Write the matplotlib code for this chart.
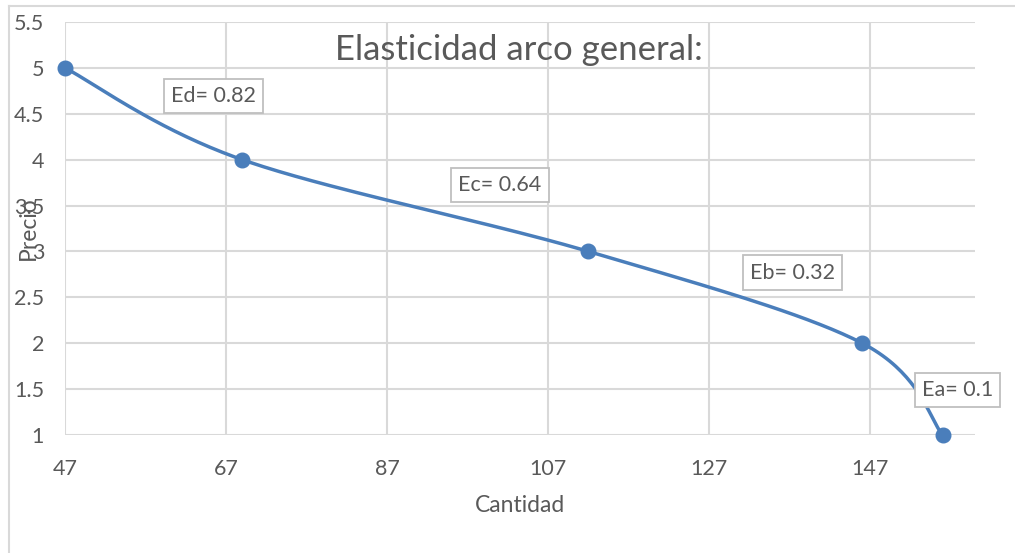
import numpy as np
import matplotlib.pyplot as plt
from matplotlib.lines import Line2D

# data
cantidad = [47, 69, 112, 146, 156]
precio = [5, 4, 3, 2, 1]
etiquetas = ["Ed= 0.82", "Ec= 0.64", "Eb= 0.32", "Ea= 0.1"]
etiq_x = [65.4, 101.0, 137.3, 157.8]
etiq_y = [4.69, 3.72, 2.77, 1.49]
xticks = [47, 67, 87, 107, 127, 147]
yticks = [1, 1.5, 2, 2.5, 3, 3.5, 4, 4.5, 5, 5.5]

plt.rcParams['font.family'] = ['Lato', 'DejaVu Sans']
gris = '#595959'
azul = '#4a7ebb'

fig = plt.figure(figsize=(10.15, 5.53), dpi=100)
ax = fig.add_axes([65 / 1015, 1 - 435 / 553, 910 / 1015, 413 / 553])
ax.set_xlim(47, 160)
ax.set_ylim(1, 5.5)
ax.set_xticks(xticks)
ax.set_yticks(yticks)
ax.set_yticklabels([f"{v:g}" for v in yticks])
ax.tick_params(length=0, labelsize=15.5, colors=gris)
ax.tick_params(axis='x', pad=17)
ax.tick_params(axis='y', pad=15)
ax.grid(True, color='#d9d9d9', lw=1.5)
ax.set_axisbelow(True)
for s in ax.spines.values():
    s.set_visible(False)

# excel-like smoothed line (catmull-rom in screen space)
pts = ax.transData.transform(np.column_stack([cantidad, precio]))
ext = np.vstack([pts[0], pts, pts[-1]])
curva = []
t = np.linspace(0, 1, 40)
for i in range(1, len(ext) - 2):
    p0, p1, p2, p3 = ext[i - 1], ext[i], ext[i + 1], ext[i + 2]
    c1 = p1 + (p2 - p0) / 6
    c2 = p2 - (p3 - p1) / 6
    seg = ((1 - t) ** 3)[:, None] * p1 + (3 * (1 - t) ** 2 * t)[:, None] * c1 \
        + (3 * (1 - t) * t ** 2)[:, None] * c2 + (t ** 3)[:, None] * p2
    curva.append(seg)
curva = ax.transData.inverted().transform(np.vstack(curva))
ax.plot(curva[:, 0], curva[:, 1], color=azul, lw=2.5, solid_capstyle='round', zorder=3)
ax.plot(cantidad, precio, 'o', color=azul, ms=10.5, zorder=4, clip_on=False)

for txt, x, y in zip(etiquetas, etiq_x, etiq_y):
    ax.text(x, y, txt, fontsize=15.5, color=gris, ha='center', va='center', zorder=5,
            bbox=dict(boxstyle='square,pad=0.33', fc='white', ec='#bfbfbf', lw=1.3))

ax.text(103.3, 5.19, "Elasticidad arco general:", fontsize=25, color=gris,
        ha='center', va='center', zorder=5)

fig.text(520 / 1015, 1 - 506 / 553, "Cantidad", fontsize=16.5, color=gris, ha='center', va='center')
fig.text(28 / 1015, 1 - 228 / 553, "Precio", fontsize=16.5, color=gris, ha='center', va='center',
         rotation=90)

# outer chart border
fig.add_artist(Line2D([9 / 1015, 9 / 1015], [0, 1 - 6 / 553], color='#d9d9d9', lw=1.5))
fig.add_artist(Line2D([9 / 1015, 1], [1 - 6 / 553, 1 - 6 / 553], color='#d9d9d9', lw=1.5))

fig.savefig('out.png', dpi=100)
